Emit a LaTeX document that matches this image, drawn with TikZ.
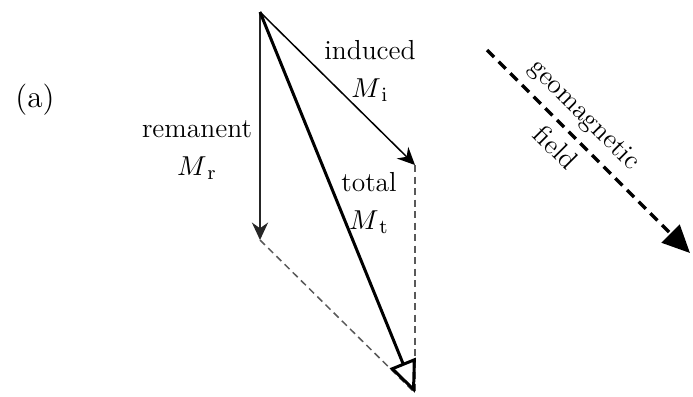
\documentclass[tikz,border=0pt]{standalone}
\usetikzlibrary{arrows.meta}
\tikzset{
  vec/.style={line width=0.6pt, -{Stealth[length=7pt,width=6.5pt,inset=2.3pt]}},
  totalvec/.style={line width=1.2pt, -{Triangle[length=13pt,width=11pt,fill=white]}},
  helper/.style={line width=0.6pt, black!65, dash pattern=on 2.8pt off 1.8pt},
  fieldvec/.style={line width=1.4pt, dash pattern=on 4pt off 2.6pt, -{Triangle[length=11pt,width=10pt]}},
  lbl/.style={align=center, font=\fontsize{11}{15}\selectfont}
}
\begin{document}
\begin{tikzpicture}[x=0.4pt, y=-0.4pt]
	\useasboundingbox (0,0) rectangle (693,396);
	
	% --- CORNERS OF THE PARALLELOGRAM ---
	\coordinate (O) at (260,12);
	\coordinate (R) at (260,240);
	\coordinate (I) at (415,165);
	\coordinate (T) at (415,393);
	
	% --- COMPLETING LINES ---
	\draw[helper] (R) -- (T);
	\draw[helper] (I) -- (T);
	
	% --- MAGNETISATION VECTORS ---
	\draw[vec, black!85] (O) -- (R);
	\draw[vec] (O) -- (I);
	\draw[totalvec] (O) -- (T);
	
	% --- LABELS ---
	\node[lbl] (remlbl) at (197,150) {remanent\\$M_{\,\mathrm{r}}$};
	\node[lbl] (indlbl) at (370,71) {induced\\$M_{\,\mathrm{i}}$};
	\node[lbl] (totlbl) at (369,203) {total\\$M_{\,\mathrm{t}}$};
	\node[font=\fontsize{12.5}{15}\selectfont] (panel) at (35,100) {(a)};
	
	% --- GEOMAGNETIC FIELD ---
	\coordinate (F0) at (487,50);
	\coordinate (F1) at (690,253);
	\draw[fieldvec] (F0) -- (F1)
		node[lbl, pos=0.4, sloped, above] (fldtop) {geomagnetic}
		node[lbl, pos=0.41, sloped, below] (fldbot) {field};
	
\end{tikzpicture}
\end{document}
